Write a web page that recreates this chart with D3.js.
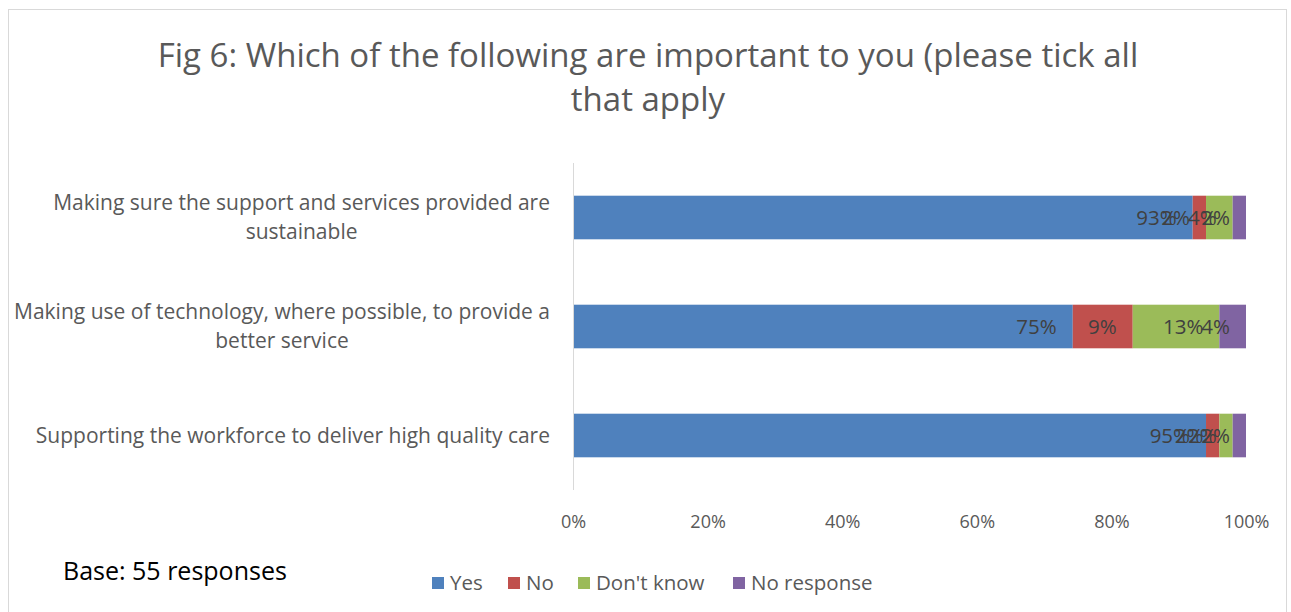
<!DOCTYPE html>
<html>
<head>
<meta charset="utf-8">
<script src="https://cdn.jsdelivr.net/npm/d3@7"></script>
<style>
  html, body { margin: 0; padding: 0; background: #fff; }
  svg { display: block; font-family: "Open Sans", Lato, sans-serif; }
</style>
</head>
<body>
<svg id="chart" width="1291" height="612"></svg>
<script>
// Survey question and its answer categories
const titleLines = ["Fig 6: Which of the following are important to you (please tick all", "that apply"];
const categories = [
  ["Making sure the support and services provided are", "sustainable"],
  ["Making use of technology, where possible, to provide a", "better service"],
  ["Supporting the workforce to deliver high quality care"]
];
const seriesNames = ["Yes", "No", "Don't know", "No response"];
// Percentage of respondents per answer, one value per category
const yesValues = [93, 75, 95];
const noValues = [2, 9, 2];
const dontKnowValues = [4, 13, 2];
const noResponseValues = [2, 4, 2];
const tickLabels = ["0%", "20%", "40%", "60%", "80%", "100%"];
const baseNote = "Base: 55 responses";

const colors = ["#4F81BD", "#C0504D", "#9BBB59", "#8064A2"];
const seriesValues = [yesValues, noValues, dontKnowValues, noResponseValues];

const rows = categories.map((c, i) => {
  const r = { key: i };
  seriesNames.forEach((s, j) => r[s] = seriesValues[j][i]);
  return r;
});

const svg = d3.select("#chart");

// outer chart frame
svg.append("rect")
  .attr("x", 8.5).attr("y", 9.5)
  .attr("width", 1278).attr("height", 620)
  .attr("fill", "#fff").attr("stroke", "#d9d9d9").attr("stroke-width", 1);

// title
svg.append("text")
  .attr("text-anchor", "middle")
  .attr("fill", "#595959")
  .style("font-size", "33px")
  .selectAll("tspan").data(titleLines).join("tspan")
  .attr("x", 648)
  .attr("y", (d, i) => 67 + i * 44)
  .text(d => d);

const x = d3.scaleLinear().domain([0, 1]).range([573, 1246]);
const y = d3.scaleBand().domain(d3.range(categories.length)).range([163, 490])
  .paddingInner(0.6).paddingOuter(0.3);

const stack = d3.stack().keys(seriesNames).offset(d3.stackOffsetExpand);
const layers = stack(rows);

// stacked 100% bars
const layerG = svg.append("g").selectAll("g").data(layers).join("g")
  .attr("fill", (d, i) => colors[i]);

layerG.selectAll("rect").data(d => d).join("rect")
  .attr("x", d => x(d[0]))
  .attr("y", (d, i) => y(i))
  .attr("width", d => x(d[1]) - x(d[0]))
  .attr("height", y.bandwidth());

// value labels placed at the inside end of each segment
layers.forEach((layer, li) => {
  svg.append("g").selectAll("text").data(layer).join("text")
    .attr("x", d => x(d[1]) - 16)
    .attr("y", (d, i) => y(i) + y.bandwidth() / 2)
    .attr("dy", "0.35em")
    .attr("text-anchor", "end")
    .attr("fill", "#404040")
    .style("font-size", "20.5px")
    .text(d => d.data[seriesNames[li]] + "%");
});

// vertical category axis line
svg.append("line")
  .attr("x1", 573.5).attr("x2", 573.5)
  .attr("y1", 163).attr("y2", 490)
  .attr("stroke", "#d9d9d9").attr("stroke-width", 1);

// category labels, centred within a right-aligned block
const labelG = svg.append("g");
categories.forEach((lines, i) => {
  const cy = y(i) + y.bandwidth() / 2;
  const lh = 29;
  const t = labelG.append("text")
    .attr("fill", "#595959")
    .attr("text-anchor", "middle")
    .style("font-size", "21px");
  const spans = t.selectAll("tspan").data(lines).join("tspan")
    .attr("y", (d, k) => cy + (k - (lines.length - 1) / 2) * lh)
    .attr("dy", "0.35em")
    .text(d => d);
  // width of the widest line determines the block centre
  let maxW = 0;
  spans.each(function () { maxW = Math.max(maxW, this.getComputedTextLength()); });
  spans.attr("x", 550 - maxW / 2);
});

// percentage axis
const xAxis = d3.axisBottom(x)
  .tickValues(d3.range(tickLabels.length).map(i => i / (tickLabels.length - 1)))
  .tickFormat((d, i) => tickLabels[i])
  .tickSize(0).tickPadding(0);
const ax = svg.append("g").attr("transform", "translate(0,522)").call(xAxis);
ax.select(".domain").remove();
ax.selectAll("text")
  .attr("dy", "0.35em")
  .attr("fill", "#595959")
  .style("font-family", "'Open Sans', Lato, sans-serif")
  .style("font-size", "18px");

// base note
svg.append("text")
  .attr("x", 63).attr("y", 580)
  .attr("fill", "#000")
  .style("font-size", "25px")
  .text(baseNote);

// legend
const legendX = [432, 508, 578, 733];
const lg = svg.append("g").selectAll("g").data(seriesNames).join("g")
  .attr("transform", (d, i) => `translate(${legendX[i]},577)`);
lg.append("rect").attr("width", 12).attr("height", 12).attr("fill", (d, i) => colors[i]);
lg.append("text")
  .attr("x", 18).attr("y", 6).attr("dy", "0.35em")
  .attr("fill", "#595959")
  .style("font-size", "20.5px")
  .text(d => d);
</script>
</body>
</html>
